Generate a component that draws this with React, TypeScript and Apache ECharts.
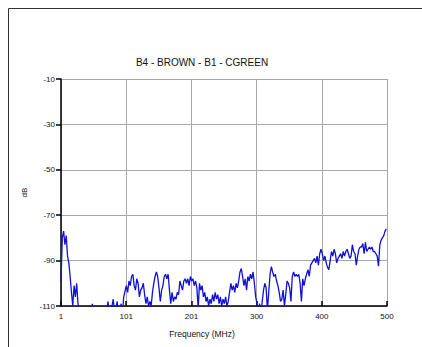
import React, { useEffect, useRef } from "react";
import * as echarts from "echarts";

const chartTitle = "B4 - BROWN - B1 - CGREEN";
const xAxisName = "Frequency (MHz)";
const yAxisName = "dB";
const xTickLabels = ["1", "101", "201", "300", "400", "500"];
const freqMin = 1;
const freqMax = 500;
const freqStart = 1;
const freqStep = 2;
const dbMin = -110;
const dbMax = -10;
const dbStep = 20;

// measured level (dB), one value every 2 MHz starting at 1 MHz
const dbValues = [
  -99, -80, -77, -83, -79, -88, -91, -97, -104, -110,
  -101, -106, -100, -109, -113, -112, -115, -114, -116, -113,
  -115, -114, -116, -113, -109, -114, -115, -116, -110, -114,
  -115, -116, -114, -115, -116, -112, -108, -114, -112, -110,
  -107, -113, -111, -108, -114, -112, -109, -114, -106, -103.5,
  -101, -104, -99, -101, -97, -96, -101, -103, -98, -100,
  -106, -103, -102, -100, -105, -109, -106, -110, -108, -110,
  -104, -100, -97, -95, -97, -102, -108, -103, -101, -97,
  -96, -98, -96, -103, -109, -104, -108, -106, -107, -104,
  -105, -99, -101, -103, -99, -98, -100, -98, -101, -97,
  -99, -98, -101, -99, -102, -111, -100, -103, -101, -106,
  -104, -108, -106, -110, -107, -109, -105, -108, -104, -107,
  -105, -109, -106, -110, -107, -109, -106, -110, -108, -104,
  -100, -103, -101, -104, -100, -102, -99, -95, -93.5, -97,
  -101, -98, -103, -97, -99, -96, -98, -95, -100, -106,
  -109, -112, -109, -113, -108, -103, -100, -102, -112, -104,
  -96, -92.7, -95, -97, -96, -99, -101, -104, -108, -107,
  -103, -110, -105, -99, -100, -102, -108, -97, -95, -97,
  -96, -97, -96, -100, -108, -98, -101, -98, -96, -94,
  -97, -92, -91, -90, -89, -91, -88, -92, -87, -85,
  -87, -90, -88, -91, -93, -94, -90, -86, -88, -85,
  -87, -91, -89, -88, -87, -89, -86, -88, -86, -85,
  -87, -89, -88, -83, -86, -87, -92, -88, -85, -84,
  -84, -82.5, -87, -82, -86, -85, -84, -85, -84, -86,
  -86, -87, -88, -92.5, -83, -81, -80, -79, -77, -76,
];

const FONT = "'Liberation Sans', Arial, sans-serif";

export default function App() {
  const ref = useRef<HTMLDivElement>(null);
  useEffect(() => {
    if (!ref.current) return;
    const chart = echarts.init(ref.current, undefined, { renderer: "svg" });
    const xSpan = freqMax - freqMin;
    const xInterval = xSpan / (xTickLabels.length - 1);
    const data = dbValues.map((d, i) => [freqStart + i * freqStep - freqMin, d - dbMax]);
    chart.setOption({
      animation: false,
      backgroundColor: "#ffffff",
      textStyle: { fontFamily: FONT },
      grid: { left: 61, top: 79, right: 35, bottom: 41, containLabel: false },
      graphic: [
        {
          type: "rect",
          shape: { x: 8.5, y: 8.5, width: 600, height: 600 },
          style: { fill: "none", stroke: "#333333", lineWidth: 1 },
          silent: true,
        },
        {
          type: "text",
          x: 202,
          y: 62,
          style: {
            text: chartTitle,
            fontSize: 10,
            fontFamily: FONT,
            fill: "#111111",
            textAlign: "center",
            textVerticalAlign: "middle",
          },
        },
        {
          type: "text",
          x: 202,
          y: 334,
          style: {
            text: xAxisName,
            fontSize: 8.5,
            fontFamily: FONT,
            fill: "#111111",
            textAlign: "center",
            textVerticalAlign: "middle",
          },
        },
      ],
      xAxis: {
        type: "value",
        min: 0,
        max: xSpan,
        interval: xInterval,
        axisLine: { show: true, onZero: false, lineStyle: { color: "#000000", width: 1.5 } },
        axisTick: { show: true, inside: true, length: 5, lineStyle: { color: "#000000", width: 1.5 } },
        axisLabel: {
          fontSize: 8,
          color: "#111111",
          margin: 6,
          fontFamily: FONT,
          showMinLabel: true,
          showMaxLabel: true,
          formatter: (v: number) => xTickLabels[Math.round(v / xInterval)] ?? "",
        },
        splitLine: { show: true, lineStyle: { color: "#a8a8a8", width: 1 } },
      },
      yAxis: {
        type: "value",
        min: dbMin - dbMax,
        max: 0,
        interval: dbStep,
        name: yAxisName,
        nameLocation: "middle",
        nameGap: 21,
        nameRotate: 90,
        nameTextStyle: { fontSize: 8, color: "#111111", fontFamily: FONT },
        axisLine: { show: true, onZero: false, lineStyle: { color: "#000000", width: 1.5 } },
        axisTick: { show: true, inside: false, length: 5, lineStyle: { color: "#000000", width: 1.5 } },
        axisLabel: {
          fontSize: 8,
          color: "#111111",
          margin: 6,
          fontFamily: FONT,
          showMinLabel: true,
          showMaxLabel: true,
          formatter: (v: number) => String(Math.round(v + dbMax)),
        },
        splitLine: { show: true, lineStyle: { color: "#a8a8a8", width: 1 } },
      },
      series: [
        {
          type: "line",
          data,
          showSymbol: false,
          symbol: "none",
          clip: true,
          lineStyle: { color: "#1010d8", width: 1.3 },
        },
      ],
    });
    return () => chart.dispose();
  }, []);
  return (
    <div
      ref={ref}
      style={{ position: "fixed", left: 0, top: 0, width: 422, height: 347 }}
    />
  );
}
